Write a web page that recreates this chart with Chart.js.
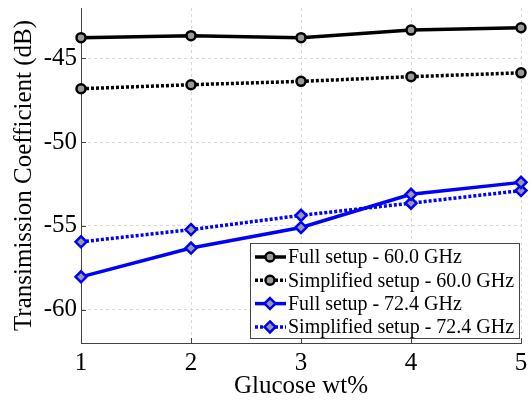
<!DOCTYPE html>
<html><head><meta charset="utf-8">
<script src="https://cdn.jsdelivr.net/npm/chart.js@4/dist/chart.umd.min.js"></script>
<style>html,body{margin:0;padding:0;background:#fff;}#wrap{width:532px;height:400px;position:relative;}</style>
</head><body><div id="wrap"><canvas id="c" width="532" height="400"></canvas></div>
<script>
const glucose = [1, 2, 3, 4, 5];
const full60 = [-43.77, -43.65, -43.77, -43.32, -43.18];
const simp60 = [-46.82, -46.58, -46.38, -46.10, -45.87];
const full724 = [-58.05, -56.33, -55.10, -53.12, -52.41];
const simp724 = [-55.96, -55.23, -54.38, -53.65, -52.90];
const xTicks = [1, 2, 3, 4, 5];
const yTicks = [-60, -55, -50, -45];
const seriesLabels = ['Full setup - 60.0 GHz', 'Simplified setup - 60.0 GHz', 'Full setup - 72.4 GHz', 'Simplified setup - 72.4 GHz'];
const xTitle = 'Glucose wt%';
const yTitle = 'Transimission Coefficient (dB)';

const SERIF = "'Liberation Serif', 'Times New Roman', serif";
const pts = arr => glucose.map((g, i) => ({x: g, y: arr[i]}));

function ds(label, data, color, dash, style, r) {
  return {
    label, data: pts(data), borderColor: color, borderWidth: 3.5, borderDash: dash,
    pointStyle: style, pointRadius: r, pointHoverRadius: r, pointBorderWidth: 2.5,
    pointBackgroundColor: '#9a9a9a', pointBorderColor: color, tension: 0, clip: false, fill: false
  };
}

function drawMarker(ctx, style, x, y, r, color) {
  ctx.save();
  ctx.beginPath();
  if (style === 'circle') {
    ctx.arc(x, y, r, 0, Math.PI * 2);
  } else {
    ctx.moveTo(x, y - r); ctx.lineTo(x + r, y); ctx.lineTo(x, y + r); ctx.lineTo(x - r, y); ctx.closePath();
  }
  ctx.fillStyle = '#9a9a9a'; ctx.fill();
  ctx.lineWidth = 2.5; ctx.strokeStyle = color; ctx.setLineDash([]); ctx.stroke();
  ctx.restore();
}

const inwardTicks = {
  id: 'inwardTicks',
  beforeDatasetsDraw(chart) {
    const {ctx, chartArea: a, scales: {x, y}} = chart;
    ctx.save();
    ctx.strokeStyle = '#444'; ctx.lineWidth = 1;
    ctx.beginPath();
    xTicks.forEach(v => { const px = Math.round(x.getPixelForValue(v)) + 0.5; ctx.moveTo(px, a.bottom); ctx.lineTo(px, a.bottom - 5); });
    yTicks.forEach(v => { const py = Math.round(y.getPixelForValue(v)) + 0.5; ctx.moveTo(a.left, py); ctx.lineTo(a.left + 5, py); });
    ctx.stroke();
    ctx.restore();
  }
};

const boxLegend = {
  id: 'boxLegend',
  afterDraw(chart) {
    const {ctx, chartArea: a} = chart;
    const right = a.right - 2, bottom = a.bottom - 5;
    const w = 269, rowH = 23.3, h = 95;
    const left = right - w, top = bottom - h;
    ctx.save();
    ctx.fillStyle = '#fff';
    ctx.fillRect(left, top, w, h);
    ctx.strokeStyle = '#444'; ctx.lineWidth = 1;
    ctx.strokeRect(Math.round(left) + 0.5, Math.round(top) + 0.5, Math.round(w), Math.round(h));
    ctx.font = '20px ' + SERIF;
    ctx.textBaseline = 'middle';
    ctx.fillStyle = '#000';
    chart.data.datasets.forEach((d, i) => {
      const yy = top + 14 + i * rowH;
      ctx.save();
      ctx.strokeStyle = d.borderColor; ctx.lineWidth = 3.5;
      ctx.setLineDash(d.borderDash || []);
      ctx.beginPath(); ctx.moveTo(left + 5, yy); ctx.lineTo(left + 36, yy); ctx.stroke();
      ctx.restore();
      drawMarker(ctx, d.pointStyle, left + 20, yy, d.pointRadius, d.borderColor);
      ctx.fillText(d.label, left + 38, yy + 1);
    });
    ctx.restore();
  }
};

new Chart(document.getElementById('c'), {
  type: 'line',
  data: {
    datasets: [
      ds(seriesLabels[0], full60, '#000000', [], 'circle', 4.5),
      ds(seriesLabels[1], simp60, '#000000', [3, 2], 'circle', 4.5),
      ds(seriesLabels[2], full724, '#0000ff', [], 'rectRot', 5.5),
      ds(seriesLabels[3], simp724, '#0000ff', [3, 2], 'rectRot', 5.5)
    ]
  },
  options: {
    responsive: false, animation: false, devicePixelRatio: 1,
    layout: {padding: {left: 0, right: 11, top: 6, bottom: 0}},
    plugins: {legend: {display: false}, tooltip: {enabled: false}},
    scales: {
      x: {
        type: 'linear', min: 1, max: 5,
        afterBuildTicks: s => { s.ticks = xTicks.map(v => ({value: v})); },
        afterFit: s => { s.height = 57; s.paddingLeft = 0; s.paddingRight = 0; },
        grid: {color: '#d8d8d8', lineWidth: 1, drawTicks: false},
        border: {display: true, color: '#444', width: 1, dash: [3, 3]},
        ticks: {font: {family: SERIF, size: 25}, color: '#000', padding: 5, maxRotation: 0},
        title: {display: true, text: xTitle, font: {family: SERIF, size: 25}, color: '#000', padding: {top: 0, bottom: -1}}
      },
      y: {
        type: 'linear', min: -62, max: -42,
        afterBuildTicks: s => { s.ticks = yTicks.map(v => ({value: v})); },
        afterFit: s => { s.width = 81; s.paddingTop = 0; s.paddingBottom = 0; },
        grid: {color: '#d8d8d8', lineWidth: 1, drawTicks: false},
        border: {display: true, color: '#444', width: 1, dash: [3, 3]},
        ticks: {font: {family: SERIF, size: 25}, color: '#000', padding: 4},
        title: {display: true, text: yTitle, font: {family: SERIF, size: 25}, color: '#000', padding: {top: 9, bottom: 0}}
      }
    }
  },
  plugins: [inwardTicks, boxLegend]
});
</script></body></html>
